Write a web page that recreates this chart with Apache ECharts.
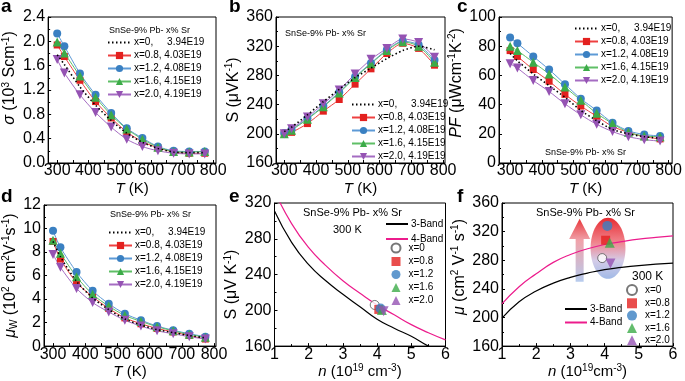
<!DOCTYPE html>
<html><head><meta charset="utf-8">
<script src="https://cdn.jsdelivr.net/npm/echarts@6/dist/echarts.min.js"></script>
<style>html,body{margin:0;padding:0;background:#fff}#c{width:685px;height:381px}</style>
</head><body><div id="c"></div>
<script>
// ---------- data ----------
const T = [300, 323, 373, 423, 473, 523, 573, 623, 673, 723, 773];
const seriesNames = ['x=0,     3.94E19', 'x=0.8, 4.03E19', 'x=1.2, 4.08E19', 'x=1.6, 4.15E19', 'x=2.0, 4.19E19'];
const sampleNames = ['x=0', 'x=0.8', 'x=1.2', 'x=1.6', 'x=2.0'];
const bandNames = ['3-Band', '4-Band'];

const sigma_x0  = [1.78, 1.62, 1.25, 0.95, 0.70, 0.49, 0.34, 0.24, 0.18, 0.17, 0.17];
const sigma_x08 = [1.94, 1.75, 1.36, 1.01, 0.74, 0.51, 0.35, 0.25, 0.18, 0.16, 0.16];
const sigma_x12 = [2.13, 1.92, 1.47, 1.12, 0.82, 0.57, 0.41, 0.27, 0.20, 0.19, 0.19];
const sigma_x16 = [1.99, 1.81, 1.43, 1.08, 0.79, 0.56, 0.39, 0.26, 0.19, 0.18, 0.19];
const sigma_x20 = [1.70, 1.48, 1.12, 0.83, 0.59, 0.39, 0.27, 0.20, 0.16, 0.15, 0.15];

const S_x0  = [203, 209, 226, 244, 261, 277, 290, 303, 314, 320, 315];
const S_x08 = [200, 202, 214, 231, 247, 268, 289, 310, 324, 317, 294];
const S_x12 = [201, 206, 221, 238, 257, 278, 297, 315, 327, 322, 301];
const S_x16 = [200, 205, 220, 237, 256, 277, 296, 314, 326, 320, 298];
const S_x20 = [200, 207, 223, 241, 260, 282, 302, 317, 330, 325, 305];

const PF_x0  = [75, 70, 61, 53, 45, 36, 29, 23, 20, 18, 17];
const PF_x08 = [77, 73, 64, 56, 47, 39, 32, 25, 21, 18, 16.5];
const PF_x12 = [86, 82, 73, 64, 54, 44, 36, 27.5, 22, 19.5, 18.5];
const PF_x16 = [80, 77, 69, 61, 52, 43, 34, 27, 21, 18.5, 18];
const PF_x20 = [68, 65, 56.5, 49, 40.5, 33, 26.5, 21.5, 18, 16, 15];

const muW_x0  = [8.9, 7.6, 5.5, 4.1, 3.1, 2.3, 1.8, 1.4, 1.15, 0.9, 0.7];
const muW_x08 = [8.9, 7.4, 5.4, 4.2, 3.2, 2.4, 1.9, 1.5, 1.2, 0.9, 0.6];
const muW_x12 = [9.8, 8.4, 6.3, 4.7, 3.6, 2.75, 2.2, 1.7, 1.35, 1.05, 0.8];
const muW_x16 = [9.0, 7.9, 5.9, 4.4, 3.4, 2.6, 2.1, 1.65, 1.3, 1.0, 0.75];
const muW_x20 = [7.8, 6.7, 4.9, 3.7, 2.9, 2.2, 1.7, 1.3, 1.05, 0.8, 0.6];

const n_samples_S  = [3.93, 4.05, 4.10, 4.14, 4.19];
const S300         = [206, 201, 202, 200.5, 199];
const n_samples_mu = [3.93, 4.03, 4.08, 4.15, 4.17];
const mu300        = [283, 308, 328, 304.5, 275.5];

const n_curve   = [1, 1.5, 2, 2.5, 3, 3.5, 4, 4.5, 5, 5.5, 6];
const band3_S   = [311, 276, 251, 233, 218, 204, 190, 180, 171, 160, 152];
const band4_S   = [333, 297, 270, 250, 233, 219, 206, 195, 184, 175, 167];
const band3_mu  = [199, 222, 237, 248, 256, 262, 267, 270, 272.5, 274.5, 276];
const band4_mu  = [219, 243, 261, 277, 288, 296, 302, 306, 309.5, 312, 314];

// decoration in panel f (data units): ellipse [n, mu, half-width n, half-height mu]; arrow [n, bottom, head base, tip]
const ellipseF = [4.10, 296.7, 0.51, 42.7];
const arrowF   = [3.27, 250, 309.6, 338];

const tTickLabels = [300, 400, 500, 600, 700, 800];
const tTickMarks  = [300, 350, 400, 450, 500, 550, 600, 650, 700, 750, 800];

// ---------- styles ----------
const FF = "'Liberation Sans', Arial, sans-serif";
const COLORS = ['#000000', '#e3211f', '#3a80c2', '#3cab48', '#9553b3'];
const LINECOL = ['#000000', '#ee4040', '#5d9ad6', '#5fbf66', '#a56cc2'];
const SYM = ['none', 'rect', 'circle', 'triangle', 'triangle'];
const SYMSIZE = [0, 7, 8, 9, 9];
const SYMROT = [0, 0, 0, 0, 180];

const grids = [
  {left: 45,    top: 17,  width: 171, height: 146},
  {left: 276,   top: 17,  width: 169, height: 146},
  {left: 499,   top: 17,  width: 174, height: 146},
  {left: 44,    top: 205, width: 172, height: 144},
  {left: 274.5, top: 203, width: 171, height: 145},
  {left: 502,   top: 203, width: 171, height: 146}
].map(g => Object.assign({show: true, borderColor: '#000', borderWidth: 1, backgroundColor: 'transparent'}, g));

const rich = {
  i: {fontStyle: 'italic', fontSize: 16, fontFamily: FF, color: '#000', lineHeight: 18},
  sup: {fontSize: 10, fontFamily: FF, color: '#000', verticalAlign: 'top', lineHeight: 10},
  sub: {fontSize: 10, fontFamily: FF, color: '#000', verticalAlign: 'bottom', lineHeight: 10}
};
const richX = {
  i: {fontStyle: 'italic', fontSize: 15, fontFamily: FF, color: '#000', lineHeight: 17},
  sup: {fontSize: 10, fontFamily: FF, color: '#000', verticalAlign: 'top', lineHeight: 10}
};

function xAxisT(gi, min, max, gap) {
  return {
    gridIndex: gi, type: 'value', min: min, max: max,
    axisLine: {show: true, onZero: false, lineStyle: {color: '#000', width: 1}},
    axisTick: {show: true, inside: true, length: 3, customValues: tTickMarks, lineStyle: {color: '#000'}},
    axisLabel: {customValues: tTickLabels, fontSize: 16, fontFamily: FF, color: '#000', margin: 0},
    splitLine: {show: false},
    name: '{i|T} (K)', nameLocation: 'middle', nameGap: gap,
    nameTextStyle: {fontSize: 15, fontFamily: FF, color: '#000', lineHeight: 17, rich: richX}
  };
}
function xAxisN(gi, name) {
  return {
    gridIndex: gi, type: 'value', min: 1, max: 6, interval: 1,
    axisLine: {show: true, onZero: false, lineStyle: {color: '#000', width: 1}},
    axisTick: {show: true, inside: true, length: 3, lineStyle: {color: '#000'}},
    minorTick: {show: true, splitNumber: 2, length: 2, lineStyle: {color: '#000'}},
    axisLabel: {fontSize: 16, fontFamily: FF, color: '#000', margin: 0},
    splitLine: {show: false},
    name: name, nameLocation: 'middle', nameGap: 10,
    nameTextStyle: {fontSize: 15, fontFamily: FF, color: '#000', lineHeight: 17, rich: richX}
  };
}
function yAxisV(gi, min, max, interval, name, gap, pad, dec) {
  return {
    gridIndex: gi, type: 'value', min: min, max: max, interval: interval,
    axisLine: {show: true, onZero: false, lineStyle: {color: '#000', width: 1}},
    axisTick: {show: true, inside: true, length: 3, lineStyle: {color: '#000'}},
    minorTick: {show: true, splitNumber: 2, length: 2, lineStyle: {color: '#000'}},
    axisLabel: {fontSize: 16, fontFamily: FF, color: '#000', margin: 3,
      formatter: v => dec ? v.toFixed(dec) : String(v)},
    splitLine: {show: false},
    name: name, nameLocation: 'middle', nameGap: gap,
    nameTextStyle: {fontSize: 16, fontFamily: FF, color: '#000', lineHeight: 18, rich: rich, padding: pad}
  };
}

const xAxes = [
  xAxisT(0, 271, 809, 16),
  xAxisT(1, 274, 806, 16),
  xAxisT(2, 265, 811, 16),
  xAxisT(3, 272, 806, 10),
  xAxisN(4, '{i|n} (10{sup|19} cm{sup|-3})'),
  xAxisN(5, '{i|n} (10{sup|19}cm{sup|-3})')
];
const yAxes = [
  yAxisV(0, 0, 2.4, 0.4, '{i|σ} (10{sup|3} Scm{sup|-1})', 27, [0, 0, 0, 24], 1),
  yAxisV(1, 160, 360, 40, 'S (μVK{sup|-1})', 30, [0, 0, 0, 0], 0),
  yAxisV(2, 0, 100, 20, '{i|PF} (μWcm{sup|-1}K{sup|-2})', 23, [0, 0, 0, 14], 0),
  yAxisV(3, 0, 12, 2, '{i|μ}{sub|W} (10{sup|2} cm{sup|2}V{sup|-1}s{sup|-1})', 24, [0, 0, 0, 0], 0),
  yAxisV(4, 160, 320, 40, 'S (μV K{sup|-1})', 29, [0, 20, 0, 0], 0),
  yAxisV(5, 160, 360, 40, '{i|μ} (cm{sup|2} V{sup|-1} s{sup|-1})', 26, [0, 0, 0, 15], 0)
];

const panelSets = [
  [sigma_x0, sigma_x08, sigma_x12, sigma_x16, sigma_x20],
  [S_x0, S_x08, S_x12, S_x16, S_x20],
  [PF_x0, PF_x08, PF_x12, PF_x16, PF_x20],
  [muW_x0, muW_x08, muW_x12, muW_x16, muW_x20]
];

const series = [];
panelSets.forEach((set, gi) => {
  set.forEach((vals, k) => {
    series.push({
      type: 'line', name: seriesNames[k], xAxisIndex: gi, yAxisIndex: gi,
      data: T.map((t, i) => [t, vals[i]]),
      smooth: 0.25,
      symbol: SYM[k], symbolSize: SYMSIZE[k], symbolRotate: SYMROT[k],
      showSymbol: k !== 0,
      itemStyle: {color: COLORS[k], borderWidth: 0},
      lineStyle: k === 0 ? {type: [1.5, 2.5], width: 1.6, color: '#000'} : {width: 1, color: LINECOL[k]},
      z: k === 0 ? 4 : 3
    });
  });
});

// panel e & f band curves
[[4, band3_S, band4_S], [5, band3_mu, band4_mu]].forEach(([gi, b3, b4]) => {
  series.push({type: 'line', name: bandNames[0], xAxisIndex: gi, yAxisIndex: gi, data: n_curve.map((n, i) => [n, b3[i]]),
    smooth: true, symbol: 'none', lineStyle: {color: '#000', width: 1.2}, itemStyle: {color: '#000'}, z: 3});
  series.push({type: 'line', name: bandNames[1], xAxisIndex: gi, yAxisIndex: gi, data: n_curve.map((n, i) => [n, b4[i]]),
    smooth: true, symbol: 'none', lineStyle: {color: '#ec1c8c', width: 1.2}, itemStyle: {color: '#ec1c8c'}, z: 3});
});

// panel f decoration (ellipse + arrow), positioned through the axes
series.push({
  type: 'custom', xAxisIndex: 5, yAxisIndex: 5, silent: true, z: 1, clip: false,
  data: [ellipseF],
  renderItem: function (params, api) {
    const c = api.coord([api.value(0), api.value(1)]);
    const s = api.size([api.value(2), api.value(3)]);
    return {
      type: 'ellipse', shape: {cx: c[0], cy: c[1], rx: s[0], ry: s[1]},
      style: {fill: {type: 'linear', x: 0, y: 0, x2: 0, y2: 1, colorStops: [
        {offset: 0, color: 'rgba(230,30,36,0.95)'}, {offset: 0.4, color: 'rgba(238,110,120,0.85)'},
        {offset: 0.7, color: 'rgba(205,195,228,0.85)'}, {offset: 1, color: 'rgba(150,178,228,0.9)'}]}}
    };
  }
});
series.push({
  type: 'custom', xAxisIndex: 5, yAxisIndex: 5, silent: true, z: 1, clip: false,
  data: [arrowF],
  renderItem: function (params, api) {
    const b = api.coord([api.value(0), api.value(1)]);
    const h = api.coord([api.value(0), api.value(2)]);
    const t = api.coord([api.value(0), api.value(3)]);
    const x = b[0], sw = 4, hw = 10.5;
    return {
      type: 'polygon',
      shape: {points: [[x - sw, b[1]], [x - sw, h[1]], [x - hw, h[1]], [x, t[1]], [x + hw, h[1]], [x + sw, h[1]], [x + sw, b[1]]]},
      style: {fill: {type: 'linear', x: 0, y: 0, x2: 0, y2: 1, colorStops: [
        {offset: 0, color: 'rgba(232,40,44,0.95)'}, {offset: 0.35, color: 'rgba(236,140,150,0.8)'},
        {offset: 1, color: 'rgba(170,195,235,0.85)'}]}}
    };
  }
});

// samples at 300 K
[[4, n_samples_S, S300], [5, n_samples_mu, mu300]].forEach(([gi, ns, vs]) => {
  ns.forEach((n, k) => {
    series.push({
      type: 'scatter', name: sampleNames[k], xAxisIndex: gi, yAxisIndex: gi,
      data: [[n, vs[k]]],
      symbol: k === 0 ? 'circle' : SYM[k], symbolSize: k === 0 ? 9 : (k === 1 ? 9 : 10), symbolRotate: SYMROT[k],
      itemStyle: k === 0 ? {color: '#fff', borderColor: '#555', borderWidth: 1} : {color: COLORS[k]},
      z: 5
    });
  });
});

const hideSym = {color: 'rgba(0,0,0,0)', borderColor: 'rgba(0,0,0,0)', borderWidth: 0, opacity: 0};
function legendAt(left, top, data, opts) {
  return Object.assign({
    left: left, top: top, orient: 'vertical', padding: 0, data: data,
    itemWidth: 23, itemHeight: 9, itemGap: 3, selectedMode: false,
    textStyle: {fontSize: 10, fontFamily: FF, color: '#000', padding: [0, 0, 0, -2]}
  }, opts || {});
}
const lineLegendData = seriesNames.map((n, k) => k === 0 ? {name: n, itemStyle: hideSym} : n);
const bandLegendData = bandNames.map(n => ({name: n, itemStyle: hideSym}));
const legends = [
  legendAt(107, 37.5, lineLegendData),
  legendAt(351, 99.5, lineLegendData),
  legendAt(574, 23.5, lineLegendData),
  legendAt(108, 227.5, lineLegendData),
  legendAt(385, 219, bandLegendData, {itemWidth: 22, itemHeight: 8, itemGap: 5}),
  legendAt(390.5, 242.5, sampleNames, {itemWidth: 9, itemHeight: 9, itemGap: 3, textStyle: {fontSize: 10, fontFamily: FF, color: '#000', padding: [0, 0, 0, 3]}}),
  legendAt(626, 284, sampleNames, {itemWidth: 10, itemHeight: 10, itemGap: 2.3, textStyle: {fontSize: 10, fontFamily: FF, color: '#000', padding: [0, 0, 0, 3]}}),
  legendAt(564, 304, bandLegendData, {itemWidth: 22, itemHeight: 8, itemGap: 3.5})
];

function txt(text, left, top, size, bold) {
  return {text: text, left: left, top: top, padding: 0,
    textStyle: {fontSize: size, fontFamily: FF, color: '#000', fontWeight: bold ? 'bold' : 'normal'}};
}
const titles = [
  txt('a', 1, -3, 19, true), txt('b', 229, -3, 19, true), txt('c', 457, -3, 19, true),
  txt('d', 1, 187, 19, true), txt('e', 229, 187, 19, true), txt('f', 457, 187, 19, true),
  txt('SnSe-9% Pb- x% Sr', 109, 26, 9), txt('SnSe-9% Pb- x% Sr', 285, 29, 9),
  txt('SnSe-9% Pb- x% Sr', 545, 148, 9), txt('SnSe-9% Pb- x% Sr', 110, 210, 9),
  txt('SnSe-9% Pb- x% Sr', 303, 207, 11), txt('300 K', 333, 224, 11),
  txt('SnSe-9% Pb- x% Sr', 536, 207, 11), txt('300 K', 632, 271, 12)
];

const chart = echarts.init(document.getElementById('c'), null, {renderer: 'canvas'});
chart.setOption({
  animation: false,
  backgroundColor: '#fff',
  title: titles,
  legend: legends,
  grid: grids,
  xAxis: xAxes,
  yAxis: yAxes,
  series: series
});
</script>
</body></html>
